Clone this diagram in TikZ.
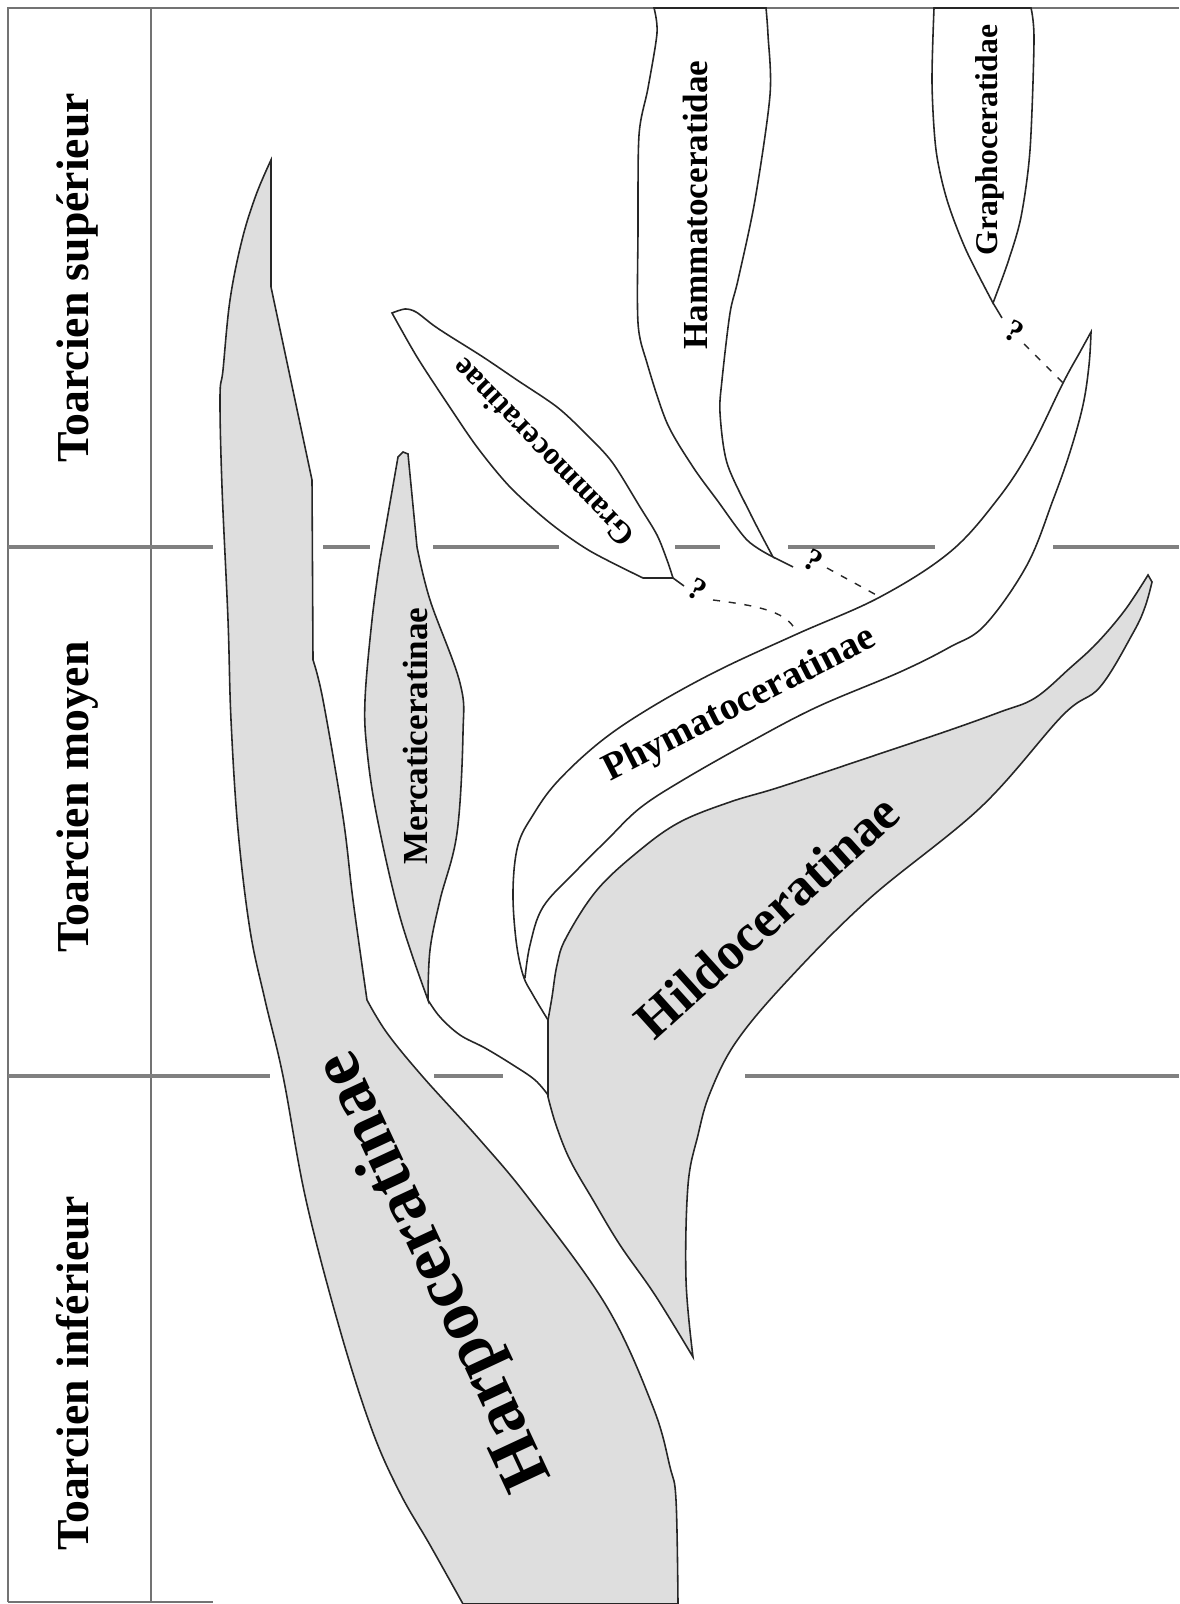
\documentclass[tikz,border=0pt]{standalone}
\usepackage{fontspec}
\setmainfont{Liberation Serif}
\usetikzlibrary{positioning}

\begin{document}
\begin{tikzpicture}[x=0.01cm,y=-0.01cm,
  frame/.style={draw=black!55,line width=0.6pt},
  stage/.style={draw=black!50,line width=0.9pt},
  branch/.style={draw=black!85,line width=0.45pt,fill=white},
  shaded/.style={branch,fill=black!13},
  doubt/.style={draw=black!85,line width=0.4pt,dash pattern=on 2pt off 2.5pt},
  period/.style={rotate=90,anchor=base,inner sep=0pt,font=\fontsize{13}{13}\selectfont\bfseries},
  taxon/.style={inner sep=0pt,font=\fontsize{#1}{#1}\selectfont\bfseries},
  query/.style={inner sep=0pt,rotate=-30,font=\fontsize{9}{9}\selectfont\bfseries}]

\useasboundingbox (0,0) rectangle (1179,1604);

\draw[frame] (8,1602) -- (8,8) -- (1179,8);
\draw[frame] (151,8) -- (151,1602);
\draw[frame] (8,1602) -- (213,1602);

\foreach \a/\b in {8/213,323/370,433/559,675/720,788/935,1053/1179}
  \draw[stage] (\a,547) -- (\b,547);
\foreach \a/\b in {8/270,434/503,745/1179}
  \draw[stage] (\a,1076) -- (\b,1076);

\node[period] (sup) at (88,278) {Toarcien supérieur};
\node[period] (moy) at (88,797) {Toarcien moyen};
\node[period] (inf) at (88,1373) {Toarcien inférieur};

\draw[shaded] (271,160) -- (271,287) -- (312,480) -- (313,660)
  -- plot[smooth,tension=0.6] coordinates {(313,660) (323,700) (343,817) (353,900) (367,1000)}
  -- plot[smooth,tension=0.6] coordinates {(367,1000) (387,1033) (423,1077) (480,1140) (530,1200) (607,1307) (653,1407) (670,1467) (676,1500) (678,1604)}
  -- (463,1604)
  -- plot[smooth,tension=0.6] coordinates {(463,1604) (430,1545) (400,1493) (372,1430) (340,1330) (306,1200) (283,1076) (265,1000) (250,930) (238,830) (231,720) (228,620) (222,487) (220,397) (223,370) (230,300) (242,240) (256,195) (271,160)} -- cycle;

\draw[shaded] (398,457) -- (403,452) -- (408,454) -- (417,547)
  -- plot[smooth,tension=0.6] coordinates {(417,547) (430,600) (460,683) (463,733) (457,833) (440,900) (430,950) (428,1000)}
  -- plot[smooth,tension=0.6] coordinates {(428,1000) (400,917) (377,817) (367,750) (365,700) (372,620) (380,560)} -- cycle;
\coordinate (mtip) at (428,1000);
\coordinate (jlow) at (548,1095);
\draw[branch,fill=none] (mtip) -- plot[smooth,tension=0.6] coordinates {(428,1000) (440,1017) (460,1035) (485,1048) (513,1065) (535,1080) (548,1095)} -- (jlow);

\draw[shaded] plot[smooth,tension=0.6] coordinates {(548,1020) (552,997) (557,965) (566,938) (597,890) (640,850) (680,822) (730,802) (780,787) (870,757) (950,730) (1000,712) (1035,698) (1070,668) (1097,643) (1125,610) (1148,575)}
  -- (1152,582)
  -- plot[smooth,tension=0.6] coordinates {(1152,582) (1145,607) (1133,633) (1100,687) (1063,715) (981,807) (869,899) (787,981) (736,1042) (710,1093) (698,1135) (688,1185) (686,1280) (693,1357)}
  -- plot[smooth,tension=0.6] coordinates {(693,1357) (655,1295) (620,1245) (593,1200) (570,1160) (556,1125) (548,1097)} -- cycle;

\draw[branch,fill=none] plot[smooth,tension=0.6] coordinates {(548,1020) (533,995) (523,975) (516,940) (513,890) (518,845) (533,815) (557,782) (600,742) (650,708) (717,671) (797,634) (880,597) (950,552) (997,500) (1030,450) (1063,383) (1080,352) (1091,332)}
  -- plot[smooth,tension=0.6] coordinates {(1091,332) (1089,365) (1083,405) (1070,452) (1053,500) (1027,565) (985,625) (950,647) (900,672) (817,707) (750,742) (683,780) (640,808) (607,840) (575,872) (543,907) (530,945) (525,978)};

\draw[branch] plot[smooth,tension=0.5] coordinates {(392,313) (405,309) (416,312) (433,325) (448,335) (483,357) (517,380) (557,407) (585,433) (612,462) (640,507) (657,535) (667,560) (673,578)}
  -- (643,578)
  -- plot[smooth,tension=0.5] coordinates {(643,578) (590,551) (550,523) (510,487) (477,447) (447,403) (417,357) (392,313)} -- cycle;

\draw[branch] plot[smooth,tension=0.5] coordinates {(654,8) (657,33) (648,88) (639,135) (638,230) (638,323) (647,363) (667,423) (693,467) (717,500) (747,540) (773,557)}
  -- plot[smooth,tension=0.5] coordinates {(773,557) (750,513) (727,463) (720,413) (722,380) (730,313) (738,280) (755,200) (770,95) (768,35) (766,8)} -- cycle;

\draw[branch] plot[smooth,tension=0.5] coordinates {(934,8) (932,83) (936,150) (947,200) (966,250) (993,303)}
  -- plot[smooth,tension=0.5] coordinates {(993,303) (1008,262) (1021,217) (1030,150) (1034,40) (1031,8)} -- cycle;

\coordinate (gramend) at (673,578);
\coordinate (gramtail) at (684,586);
\coordinate (gramdot) at (713,600);
\coordinate (phyA) at (797,634);
\node[query] (qgram) at (697,590) {?};
\draw[branch] (gramend) -- (gramtail);
\draw[doubt] (gramdot) .. controls (760,606) and (790,612) .. (phyA);

\coordinate (hamend) at (773,557);
\coordinate (hamtail) at (793,567);
\coordinate (hamdot) at (827,568);
\coordinate (phyB) at (880,597);
\node[query] (qham) at (813,561) {?};
\draw[branch] (hamend) -- (hamtail);
\draw[doubt] (hamdot) -- (phyB);

\coordinate (graend) at (993,303);
\coordinate (gratail) at (1002,318);
\coordinate (gradot) at (1024,344);
\coordinate (phyC) at (1063,383);
\node[query] (qgra) at (1014,332) {?};
\draw[branch] (graend) -- (gratail);
\draw[doubt] (gradot) -- (phyC);

\node[taxon=10,rotate=90,anchor=base] (mer) at (427,736) {Mercaticeratinae};
\node[taxon=10,rotate=90,anchor=base] (ham) at (707,205) {Hammatoceratidae};
\node[taxon=9,rotate=90,anchor=base] (gra) at (997,140) {Graphoceratidae};
\node[taxon=9,rotate=134] (gram) at (543,453) {Grammoceratinae};
\node[taxon=11,rotate=27] (phy) at (740,705) {Phymatoceratinae};
\node[taxon=15,rotate=42] (hil) at (767,916) {Hildoceratinae};
\node[taxon=20,rotate=115] (har) at (436,1270) {Harpoceratinae};
\end{tikzpicture}
\end{document}
